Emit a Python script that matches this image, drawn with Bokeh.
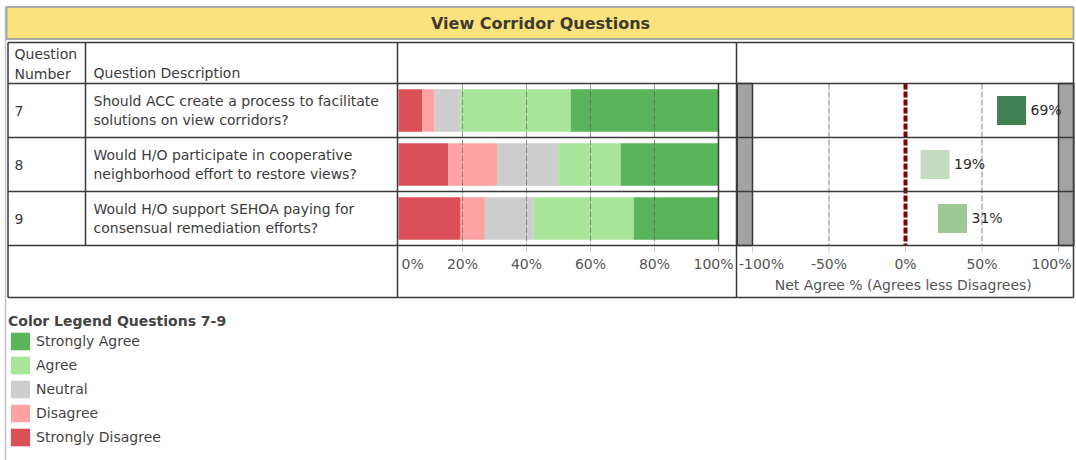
from bokeh.plotting import figure
from bokeh.models import Range1d, ColumnDataSource, Legend, LegendItem
from bokeh.embed import file_html
from bokeh.resources import INLINE
from bokeh.core.properties import value

# ---------------- data ----------------
title = "View Corridor Questions"
questions = [7, 8, 9]
descriptions = [
    "Should ACC create a process to facilitate\nsolutions on view corridors?",
    "Would H/O participate in cooperative\nneighborhood effort to restore views?",
    "Would H/O support SEHOA paying for\nconsensual remediation efforts?",
]
categories = ["Strongly Disagree", "Disagree", "Neutral", "Agree", "Strongly Agree"]
strongly_disagree = [7.4, 15.5, 19.4]
disagree = [3.9, 15.3, 7.6]
neutral = [8.1, 19.1, 15.3]
agree = [34.4, 19.5, 31.2]
strongly_agree = [46.2, 30.6, 26.5]
bar_ticks = [0, 20, 40, 60, 80, 100]
net_ticks = [-100, -50, 0, 50, 100]
net_axis_title = "Net Agree %  (Agrees less Disagrees)"
legend_title = "Color Legend Questions 7-9"
header_number = "Question\nNumber"
header_desc = "Question Description"

# ---------------- styles / layout ----------------
W, H = 1076, 460
FONT = "DejaVu Sans"
TXT = "#3c3c3c"
LINE = "#3a3a3a"
cat_colors = ["#db4f56", "#fea3a3", "#cdcdcd", "#a9e59b", "#5ab45b"]
net_colors = ["#3f8150", "#c5dac0", "#9ec994"]

TABLE_L, TABLE_R = 7.5, 1073
TABLE_T, TABLE_B = 42, 297
COL1, COL2, COL3 = 85, 397, 736
ROW1_Y, ROW_PITCH = 110, 54          # screen y of first row centre, row pitch
PCT0_X, PCT_PX = 398, 3.2            # screen x of 0 %, px per %
NET0_X, NET_PX = 905, 1.53           # screen x of net 0 %, px per %
NET_LIM, NET_BAND = 100, 110

def qy(q):
    return ROW1_Y + (q - questions[0]) * ROW_PITCH

body_top_q = questions[0] - 0.5
body_bot_q = questions[-1] + 0.5
BODY_T, BODY_B = qy(body_top_q), qy(body_bot_q)

p = figure(width=W, height=H, output_backend="svg", toolbar_location=None,
           x_range=Range1d(0, W), y_range=Range1d(H, 0),
           x_axis_type=None, y_axis_type=None, min_border=0,
           outline_line_color=None, background_fill_color="white",
           border_fill_color="white")
p.extra_x_ranges = {
    "pct": Range1d(-PCT0_X / PCT_PX, (W - PCT0_X) / PCT_PX),
    "net": Range1d(-NET0_X / NET_PX, (W - NET0_X) / NET_PX),
}
p.extra_y_ranges = {
    "q": Range1d(questions[0] + (H - ROW1_Y) / ROW_PITCH,
                 questions[0] - ROW1_Y / ROW_PITCH),
}

# ---------------- frame + title bar ----------------
p.segment(x0=[5], x1=[5], y0=[6], y1=[H], line_color="#c4c4c4", line_width=1.5)
p.quad(left=6, right=1073, top=6.5, bottom=38.5, fill_color="#fce27d",
       line_color="#a9a9a9", line_width=2)
p.text(x=[540], y=[23], text=[title], text_font=value(FONT),
       text_font_size="16px", text_font_style="bold", text_color="#3d3a2e",
       text_align="center", text_baseline="middle")

# ---------------- stacked bars ----------------
src = ColumnDataSource(dict(q=questions, sd=strongly_disagree, d=disagree,
                            n=neutral, a=agree, sa=strongly_agree))
bar_rs = p.hbar_stack(["sd", "d", "n", "a", "sa"], y="q", height=0.79,
                      color=cat_colors, line_color=None, source=src,
                      x_range_name="pct", y_range_name="q")

inner = [t for t in bar_ticks if 0 < t < 100]
p.segment(x0=inner, x1=inner, y0=[body_top_q] * len(inner),
          y1=[body_bot_q] * len(inner), line_color="#555555", line_alpha=0.6,
          line_dash="6 2", line_width=1, x_range_name="pct", y_range_name="q")
p.segment(x0=[bar_ticks[-1]], x1=[bar_ticks[-1]], y0=[body_top_q],
          y1=[body_bot_q], line_color=LINE, line_width=1.5,
          x_range_name="pct", y_range_name="q")

# ---------------- net agree chart ----------------
p.quad(left=[-NET_BAND, NET_LIM], right=[-NET_LIM, NET_BAND],
       top=[body_top_q] * 2, bottom=[body_bot_q] * 2,
       fill_color="#a3a3a3", line_color=LINE, line_width=1.5,
       x_range_name="net", y_range_name="q")
mid = [t for t in net_ticks if t not in (-100, 0, 100)]
p.segment(x0=mid, x1=mid, y0=[body_top_q] * len(mid),
          y1=[body_bot_q] * len(mid), line_color="#666666", line_alpha=0.8,
          line_dash="6 2", line_width=1, x_range_name="net", y_range_name="q")
p.segment(x0=[0], x1=[0], y0=[body_top_q], y1=[body_bot_q],
          line_color="#7a0000", line_width=4, line_dash="6 2",
          x_range_name="net", y_range_name="q")

net = [round(sa + a - d - sd, 1) for sa, a, d, sd in
       zip(strongly_agree, agree, disagree, strongly_disagree)]
net_src = ColumnDataSource(dict(q=questions, net=net, color=net_colors,
                                label=[f"{round(v)}%" for v in net]))
p.scatter(x="net", y="q", marker="square", size=29, fill_color="color",
          line_color=None, source=net_src, x_range_name="net", y_range_name="q")
p.text(x="net", y="q", text="label", source=net_src, x_offset=19, y_offset=-1,
       text_font=value(FONT), text_font_size="14px", text_color="#2b2b2b",
       text_baseline="middle", text_align="left",
       x_range_name="net", y_range_name="q")

# ---------------- table lines ----------------
hy = [TABLE_T, BODY_T] + [qy(q + 0.5) for q in questions] + [TABLE_B]
p.segment(x0=[TABLE_L] * len(hy), x1=[TABLE_R] * len(hy), y0=hy, y1=hy,
          line_color=LINE, line_width=1.5)
p.segment(x0=[TABLE_L, TABLE_R, COL1, COL2, COL3],
          x1=[TABLE_L, TABLE_R, COL1, COL2, COL3],
          y0=[TABLE_T] * 5, y1=[TABLE_B, TABLE_B, BODY_B, TABLE_B, TABLE_B],
          line_color=LINE, line_width=1.5)

# ---------------- table text ----------------
p.text(x=[14], y=[63.5], text=[header_number], text_font=value(FONT),
       text_font_size="14px", text_color=TXT, text_baseline="middle",
       text_line_height=1.2)
p.text(x=[93], y=[72], text=[header_desc], text_font=value(FONT),
       text_font_size="14px", text_color=TXT, text_baseline="middle")
tsrc = ColumnDataSource(dict(q=questions, num=[str(q) for q in questions],
                             desc=descriptions))
p.text(x=14, y="q", text="num", source=tsrc, text_font=value(FONT),
       text_font_size="14px", text_color=TXT, text_baseline="middle",
       y_range_name="q")
p.text(x=93, y="q", text="desc", source=tsrc, text_font=value(FONT),
       text_font_size="14px", text_color=TXT, text_baseline="middle",
       text_line_height=1.2, y_range_name="q")

# ---------------- axis row ----------------
TICK_Y0, TICK_Y1, LABEL_Y, NET_TITLE_Y = BODY_B + 1, BODY_B + 7, 263.5, 284
p.segment(x0=bar_ticks, x1=bar_ticks, y0=[TICK_Y0] * len(bar_ticks),
          y1=[TICK_Y1] * len(bar_ticks), line_color="#c8c8c8", line_width=1,
          x_range_name="pct")
p.segment(x0=net_ticks, x1=net_ticks, y0=[TICK_Y0] * len(net_ticks),
          y1=[TICK_Y1] * len(net_ticks), line_color="#c8c8c8", line_width=1,
          x_range_name="net")
bt = ColumnDataSource(dict(
    x=bar_ticks, y=[LABEL_Y] * len(bar_ticks),
    t=[f"{v}%" for v in bar_ticks],
    align=["left"] + ["center"] * (len(bar_ticks) - 2) + ["right"],
    off=[3] + [0] * (len(bar_ticks) - 2) + [15]))
p.text(x="x", y="y", text="t", text_align="align", x_offset="off", source=bt,
       text_font=value(FONT), text_font_size="14px", text_color="#555555",
       text_baseline="middle", x_range_name="pct")
nt = ColumnDataSource(dict(
    x=net_ticks, y=[LABEL_Y] * len(net_ticks),
    t=[f"{v}%" for v in net_ticks],
    align=["left"] + ["center"] * (len(net_ticks) - 2) + ["right"],
    off=[-13.5] + [0] * (len(net_ticks) - 2) + [13]))
p.text(x="x", y="y", text="t", text_align="align", x_offset="off", source=nt,
       text_font=value(FONT), text_font_size="14px", text_color="#555555",
       text_baseline="middle", x_range_name="net")
p.text(x=[0], y=[NET_TITLE_Y], text=[net_axis_title], text_font=value(FONT),
       text_font_size="14px", text_color="#555555", text_align="center",
       text_baseline="middle", x_range_name="net")

# ---------------- legend ----------------
items = [LegendItem(label=c, renderers=[r])
         for c, r in reversed(list(zip(categories, bar_rs)))]
legend = Legend(items=items, title=legend_title, location=(8, 12),
                title_text_font=FONT, title_text_font_size="14px",
                title_text_font_style="bold", title_text_color="#444444",
                label_text_font=FONT, label_text_font_size="14px",
                label_text_color="#444444", glyph_width=24, glyph_height=22,
                label_height=22, label_standoff=4, spacing=2, padding=0,
                margin=0, title_standoff=1, border_line_color=None,
                background_fill_alpha=0)
p.add_layout(legend)

open("out.html", "w").write(file_html(p, INLINE))
